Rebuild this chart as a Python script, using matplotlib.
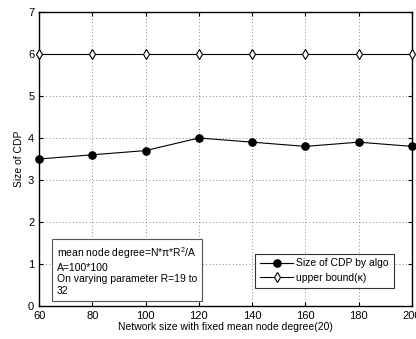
import matplotlib
matplotlib.use("Agg")
import matplotlib.pyplot as plt

plt.rcParams["font.family"] = ["Liberation Sans", "DejaVu Sans"]
plt.rcParams["mathtext.fontset"] = "custom"
plt.rcParams["mathtext.rm"] = "Liberation Sans"

network_size = [60, 80, 100, 120, 140, 160, 180, 200]
cdp_size = [3.5, 3.6, 3.7, 4.0, 3.9, 3.8, 3.9, 3.8]
upper_bound = [6, 6, 6, 6, 6, 6, 6, 6]

fig = plt.figure(figsize=(4.16, 3.39), dpi=100)
ax = fig.add_axes([0.094, 0.097, 0.896, 0.868])

ax.plot(network_size, cdp_size, color="black", lw=0.8, marker="o",
        markersize=5.2, markerfacecolor="black", label="Size of CDP by algo",
        clip_on=False, zorder=3)
ax.plot(network_size, upper_bound, color="black", lw=0.8, marker="d",
        markersize=5, markerfacecolor="white", markeredgewidth=0.8,
        label="upper bound(\u03ba)", clip_on=False, zorder=3)

ax.set_xlim(60, 200)
ax.set_ylim(0, 7)
ax.set_xticks(network_size)
ax.set_yticks(range(0, 8))
ax.grid(True, color="#666666", linestyle=(0, (1, 3)), lw=0.6)
ax.tick_params(direction="in", labelsize=8, length=3, top=True, right=True)
for s in ax.spines.values():
    s.set_linewidth(1.0)

ax.set_xlabel("Network size with fixed mean node degree(20)", fontsize=7.5, labelpad=1)
ax.set_ylabel("Size of CDP", fontsize=7.5, labelpad=3)

leg = ax.legend(loc="lower right", bbox_to_anchor=(0.965, 0.045), fontsize=7.5,
                frameon=True, fancybox=False, edgecolor="black",
                handlelength=3.2, borderpad=0.45, labelspacing=0.45,
                handletextpad=0.3)
leg.get_frame().set_linewidth(0.8)

ax.text(0.048, 0.035,
        "mean node degree=N*\u03c0*R$^2$/A\nA=100*100\nOn varying parameter R=19 to\n32",
        transform=ax.transAxes, fontsize=7.5, va="bottom", ha="left",
        linespacing=1.2,
        bbox=dict(boxstyle="square,pad=0.45", facecolor="white",
                  edgecolor="#555555", lw=0.8))

fig.savefig("out.png", dpi=100)
